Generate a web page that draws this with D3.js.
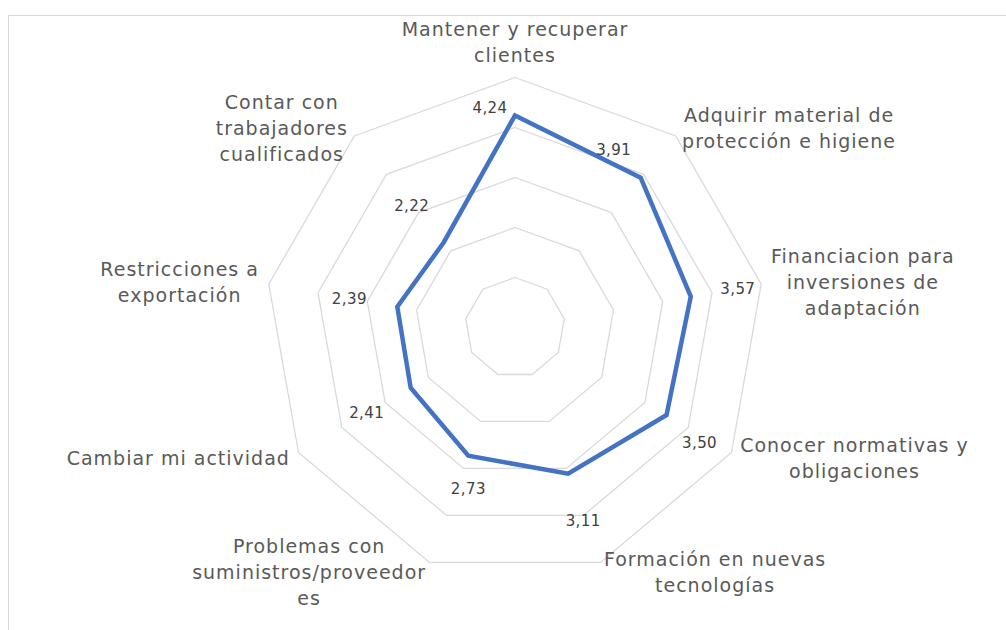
<!doctype html>
<html>
  <head>
    <meta charset="utf-8">
    <title>Radar chart with D3</title>
    <script src="https://cdnjs.cloudflare.com/ajax/libs/d3/7.8.5/d3.min.js"></script>
    <style>
      body { margin: 0; background: #fff; }
      svg { display: block; }
      text { font-family: "DejaVu Sans", sans-serif; }
    </style>
  </head>
  <body>
    <div id="my-svg-chart"></div>
    <script>
      // data
      const categories = [
        ["Mantener y recuperar", "clientes"],
        ["Adquirir material de", "protección e higiene"],
        ["Financiacion para", "inversiones de", "adaptación"],
        ["Conocer normativas y", "obligaciones"],
        ["Formación en nuevas", "tecnologías"],
        ["Problemas con", "suministros/proveedor", "es"],
        ["Cambiar mi actividad"],
        ["Restricciones a", "exportación"],
        ["Contar con", "trabajadores", "cualificados"]
      ];
      const values = [4.24, 3.91, 3.57, 3.50, 3.11, 2.73, 2.41, 2.39, 2.22];
      const levels = [1, 2, 3, 4, 5];

      // where excel left the value labels (pixels from the point)
      const labelNudge = [[-25, -8], [-27, -28], [47, -8], [33, 28], [15, 47],
                          [0, 33], [-44, 25], [-48, -8], [-32, -37]];

      const width = 1006, height = 630;
      const cx = 515, cy = 327.5;

      const svg = d3.select('#my-svg-chart')
        .append('svg')
        .attr('width', width)
        .attr('height', height);

      // chart frame
      svg.append('rect')
        .attr('x', 8.5).attr('y', 15.5)
        .attr('width', 1200).attr('height', 800)
        .attr('fill', 'none')
        .attr('stroke', '#d9d9d9');

      const r = d3.scaleLinear().domain([0, 5]).range([0, 250]);
      const angle = d3.scalePoint()
        .domain(d3.range(categories.length))
        .range([0, 2 * Math.PI * (categories.length - 1) / categories.length]);

      const g = svg.append('g').attr('transform', `translate(${cx},${cy})`);

      const pt = (i, v) => [Math.sin(angle(i)) * r(v), -Math.cos(angle(i)) * r(v)];

      // grid rings
      g.selectAll('.ring')
        .data(levels)
        .join('polygon')
        .attr('class', 'ring')
        .attr('points', lv => categories.map((c, i) => pt(i, lv).join(',')).join(' '))
        .attr('fill', 'none')
        .attr('stroke', '#d9d9d9')
        .attr('stroke-width', 1.3);

      // series
      const radial = d3.lineRadial()
        .angle((d, i) => angle(i))
        .radius(d => r(d))
        .curve(d3.curveLinearClosed);

      g.append('path')
        .attr('d', radial(values))
        .attr('fill', 'none')
        .attr('stroke', '#4472c4')
        .attr('stroke-width', 4.5)
        .attr('stroke-linejoin', 'miter');

      // value labels
      g.selectAll('.val')
        .data(values)
        .join('text')
        .attr('class', 'val')
        .attr('x', (d, i) => pt(i, d)[0] + labelNudge[i][0])
        .attr('y', (d, i) => pt(i, d)[1] + labelNudge[i][1])
        .attr('dy', '0.35em')
        .attr('text-anchor', 'middle')
        .attr('font-size', 15)
        .attr('letter-spacing', 0.4)
        .attr('fill', '#404040')
        .text(d => d.toFixed(2).replace('.', ','));

      // category labels, lines centred inside their box like excel does
      const lineH = 26, off = 10;
      const cat = g.selectAll('.cat')
        .data(categories)
        .join('text')
        .attr('class', 'cat')
        .attr('font-size', 19)
        .attr('letter-spacing', 1)
        .attr('fill', '#595959')
        .attr('text-anchor', 'middle');

      cat.each(function(lines, i) {
        const a = angle(i);
        const [vx, vy] = pt(i, 5);
        const ax = vx + Math.sin(a) * off;
        let mid = vy - Math.cos(a) * off;
        const h = lines.length * lineH;
        if (Math.abs(Math.sin(a)) < 0.05) mid -= Math.sign(Math.cos(a)) * h / 2;

        const spans = d3.select(this).selectAll('tspan')
          .data(lines)
          .join('tspan')
          .attr('y', (l, k) => mid + (k - (lines.length - 1) / 2) * lineH + 7)
          .text(l => l);

        let w = 0;
        spans.each(function() { w = Math.max(w, this.getComputedTextLength()); });
        const s = Math.sin(a);
        const x = s > 0.05 ? ax + w / 2 : s < -0.05 ? ax - w / 2 : ax;
        spans.attr('x', x);
      });
    </script>
  </body>
</html>
